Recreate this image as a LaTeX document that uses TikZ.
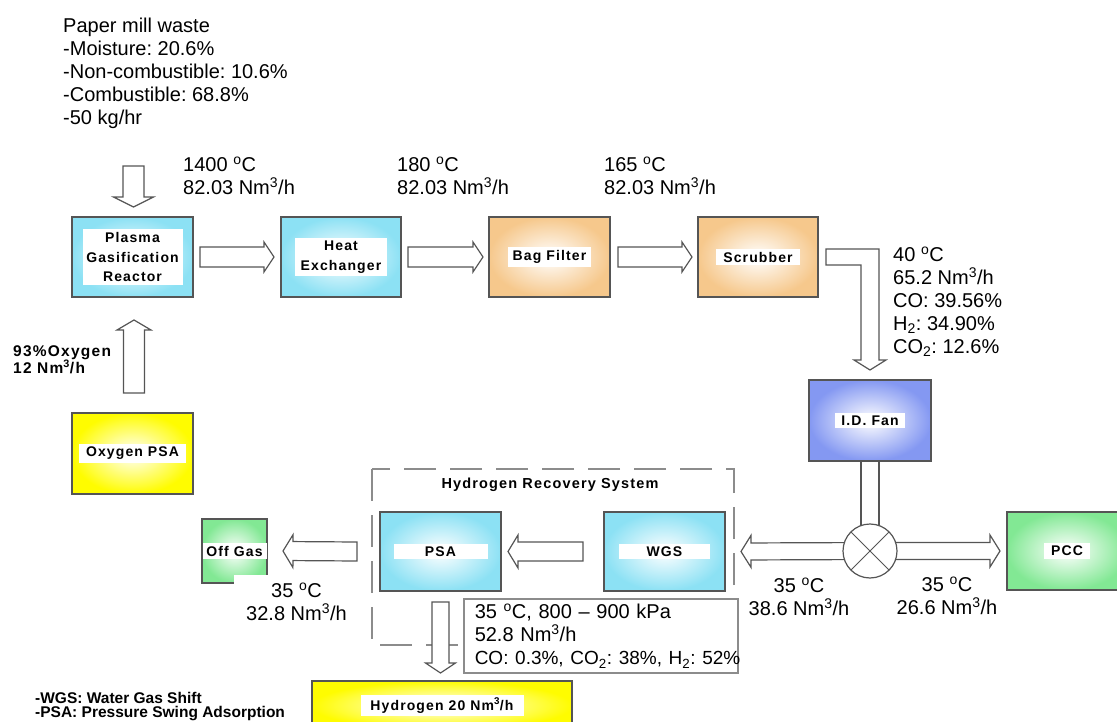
\documentclass[tikz,border=0pt]{standalone}
\usepackage{fontspec}
\setmainfont{Liberation Sans}
\newfontfamily\unitfont[LetterSpace=8]{Liberation Sans}
\usetikzlibrary{calc}
\frenchspacing

\definecolor{unitcyan}{RGB}{140,225,244}
\definecolor{unitorange}{RGB}{246,200,140}
\definecolor{unitblue}{RGB}{132,152,242}
\definecolor{unitgreen}{RGB}{130,232,148}
\definecolor{unityellow}{RGB}{255,252,0}
\definecolor{boxgray}{RGB}{85,85,85}
\definecolor{framegray}{RGB}{140,140,140}

\newcommand{\plate}[2]{{\setlength{\fboxsep}{3pt}\colorbox{white}{\parbox{#1}{\centering #2}}}}
\newcommand{\degC}{\textsuperscript{o}C}
\newcommand{\nmh}{Nm\textsuperscript{3}/h}

% hollow block arrow: body half width, head half width, from, to
\newcommand{\blockarrow}[4]{%
  \coordinate (ba-s) at #3;
  \coordinate (ba-t) at #4;
  \coordinate (ba-b) at ($(ba-t)!10pt!(ba-s)$);
  \draw[flowarrow] ($(ba-s)!#1pt!90:(ba-t)$) -- ($(ba-b)!#1pt!-90:(ba-s)$)
    -- ($(ba-b)!#2pt!-90:(ba-s)$) -- (ba-t)
    -- ($(ba-b)!#2pt!90:(ba-s)$) -- ($(ba-b)!#1pt!90:(ba-s)$)
    -- ($(ba-s)!#1pt!-90:(ba-t)$) -- cycle;}

\tikzset{
  unit/.style={draw=boxgray, line width=1.2pt, inner sep=0pt, outer sep=0pt,
    font=\unitfont\bfseries\fontsize{14}{19.5}\selectfont},
  cyanunit/.style={unit, inner color=white, outer color=unitcyan},
  orangeunit/.style={unit, inner color=white, outer color=unitorange},
  blueunit/.style={unit, inner color=white, outer color=unitblue},
  greenunit/.style={unit, inner color=white, outer color=unitgreen},
  yellowunit/.style={unit, inner color=white, outer color=unityellow},
  flowarrow/.style={draw=boxgray, line width=1.2pt, fill=white, line join=miter},
  flowtext/.style={inner sep=0pt, align=left, font=\fontsize{20}{23}\selectfont},
  smalltext/.style={inner sep=0pt, align=left, font=\unitfont\bfseries\fontsize{15.5}{16}\selectfont},
  hrsframe/.style={draw=framegray, line width=2pt, dash pattern=on 32pt off 14pt},
}

\begin{document}
\begin{tikzpicture}[x=1pt,y=-1pt]
\useasboundingbox (0,0) rectangle (1117,722);

% feed
\node[flowtext, anchor=north west] (feedinfo) at (63,17.5)
  {Paper mill waste\\-Moisture: 20.6\%\\-Non-combustible: 10.6\%\\-Combustible: 68.8\%\\-50 kg/hr};

% hydrogen recovery system frame
\draw[hrsframe] (372,469) rectangle (734,645);
\node[unit, draw=none, font=\unitfont\bfseries\fontsize{14.5}{16}\selectfont] (hrstitle) at (550,485) {Hydrogen Recovery System};

% process units
\node[cyanunit, minimum width=121pt, minimum height=80pt] (reactor) at (132.5,257)
  {\plate{94pt}{Plasma\\Gasification\\Reactor}};
\node[cyanunit, minimum width=120pt, minimum height=80pt] (heatex) at (341,257)
  {\plate{86pt}{Heat\\Exchanger}};
\node[orangeunit, minimum width=121pt, minimum height=80pt] (bagfilter) at (549.5,257)
  {\plate{77pt}{Bag Filter}};
\node[orangeunit, minimum width=120pt, minimum height=80pt] (scrubber) at (758,257)
  {\plate{78pt}{Scrubber}};
\node[blueunit, minimum width=122pt, minimum height=81pt] (idfan) at (870,420.5)
  {\plate{64pt}{I.D. Fan}};
\node[greenunit, minimum width=120pt, minimum height=78pt] (pcc) at (1067,551)
  {\plate{40pt}{PCC}};
\node[cyanunit, minimum width=121pt, minimum height=79pt] (wgs) at (664.5,551.5)
  {\plate{85pt}{WGS}};
\node[cyanunit, minimum width=121pt, minimum height=79pt] (psa) at (440.5,551.5)
  {\plate{88pt}{PSA}};
\node[greenunit, minimum width=65pt, minimum height=64pt] (offgas) at (234.5,551)
  {\plate{58pt}{Off Gas}};
\node[yellowunit, minimum width=121pt, minimum height=81pt] (oxypsa) at (132.5,453.5)
  {\plate{101pt}{Oxygen PSA}};
\node[yellowunit, minimum width=260pt, minimum height=49pt] (hydrogen) at (442,705.5)
  {\plate{157pt}{Hydrogen 20 \nmh}};
\node[circle, minimum size=54pt, inner sep=0pt, outer sep=0pt] (mixer) at (870,551) {};

% top line
\coordinate (feedin) at (133.5,166);
\blockarrow{10.5}{20}{(feedin)}{($(reactor.north)+(1,-10)$)}
\blockarrow{10}{15}{($(reactor.east)+(7,0)$)}{($(heatex.west)+(-7,0)$)}
\blockarrow{10}{15}{($(heatex.east)+(7,0)$)}{($(bagfilter.west)+(-6,0)$)}
\blockarrow{10}{15}{($(bagfilter.east)+(8,0)$)}{($(scrubber.west)+(-6,0)$)}
\blockarrow{10.5}{17}{($(oxypsa.north)+(1.5,-20)$)}{($(reactor.south)+(1.5,23)$)}

% scrubber to fan
\coordinate (bend) at (scrubber.east -| idfan.north);
\draw[flowarrow] ($(scrubber.east)+(8,-8)$) -- ($(bend)+(9,-8)$) -- ($(idfan.north)+(9,-20)$)
  -- ($(idfan.north)+(16,-20)$) -- ($(idfan.north)+(0,-10)$) -- ($(idfan.north)+(-16,-20)$)
  -- ($(idfan.north)+(-9,-20)$) -- ($(bend)+(-9,8)$) -- ($(scrubber.east)+(8,8)$) -- cycle;

% fan to splitter
\draw[boxgray, line width=1.2pt] ($(idfan.south)+(-9,0)$) -- ($(mixer.center)+(-9,0)$)
  ($(idfan.south)+(9,0)$) -- ($(mixer.center)+(9,0)$);
\blockarrow{8.5}{16}{(mixer.center)}{($(pcc.west)+(-7,0)$)}
\blockarrow{8.5}{16}{(mixer.center)}{($(wgs.east)+(16,0)$)}
\draw[boxgray, line width=1.2pt, fill=white] (mixer.center) circle [radius=27pt];
\draw[boxgray, line width=1pt] (mixer.north west) -- (mixer.south east)
  (mixer.north east) -- (mixer.south west);

% hydrogen recovery
\blockarrow{9.5}{16.5}{($(wgs.west)+(-21,0)$)}{($(psa.east)+(7,0)$)}
\blockarrow{9.5}{16.5}{($(psa.west)+(-23,0)$)}{($(offgas.east)+(16,0)$)}
\blockarrow{8.5}{15}{($(psa.south)+(0,11)$)}{($(psa.south |- hydrogen.north)+(0,-8)$)}

% stream data
\node[flowtext, anchor=north west] (hot1400) at (183,156.5) {1400 \degC\\82.03 \nmh};
\node[flowtext, anchor=north west] (hot180) at (397,156.5) {180 \degC\\82.03 \nmh};
\node[flowtext, anchor=north west] (hot165) at (604,156.5) {165 \degC\\82.03 \nmh};
\node[flowtext, anchor=north west] (scrubout) at (893,246.5)
  {40 \degC\\65.2 \nmh\\CO: 39.56\%\\H\textsubscript{2}: 34.90\%\\CO\textsubscript{2}: 12.6\%};
\node[flowtext, align=center, anchor=north] (topcc) at (947,576.5) {35 \degC\\26.6 \nmh};
\node[flowtext, align=center, anchor=north] (towgs) at (799,577.5) {35 \degC\\38.6 \nmh};
\node[flowtext, align=center, anchor=north, fill=white, inner xsep=12pt, inner ysep=8pt] (tooff) at (296.5,574.5)
  {35 \degC\\32.8 \nmh};
\node[flowtext, anchor=north west, draw=framegray, line width=1.5pt, fill=white, text width=252pt,
  inner xsep=11pt, inner ysep=5pt, minimum height=74pt] (psaout) at (463,598)
  {35 \degC, 800 -- 900 kPa\\52.8 \nmh\\\mbox{\fontsize{19}{22.5}\selectfont CO: 0.3\%, CO\textsubscript{2}: 38\%, H\textsubscript{2}: 52\%}};
\node[smalltext, anchor=north west] (oxyin) at (13,345) {93\%Oxygen\\12 \nmh};

% legend
\node[inner sep=0pt, align=left, anchor=north west, font=\bfseries\fontsize{15.5}{14.5}\selectfont] (legend) at (35,692)
  {-WGS: Water Gas Shift\\-PSA: Pressure Swing Adsorption};
\end{tikzpicture}
\end{document}
